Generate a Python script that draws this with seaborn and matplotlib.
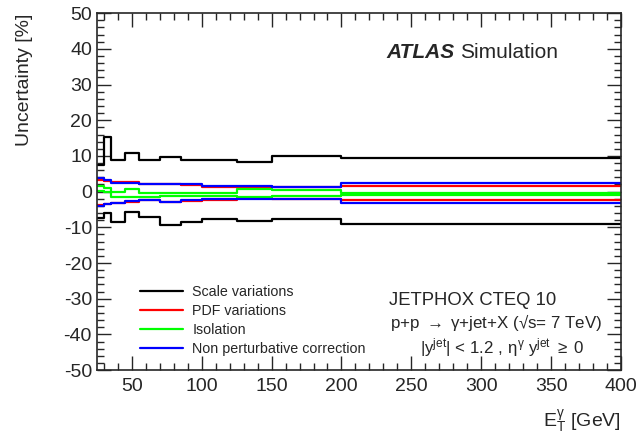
import numpy as np
import pandas as pd
import matplotlib
import matplotlib.pyplot as plt
import seaborn as sns

matplotlib.use("Agg")

# bin edges in E_T^gamma [GeV]
edges = [25, 30, 35, 45, 55, 70, 85, 100, 125, 150, 200, 400]

# relative uncertainties [%] per bin, upper / lower envelope
scale_up = [7.5, 15.2, 8.9, 10.8, 8.9, 9.7, 8.8, 8.9, 8.3, 9.9, 9.4]
scale_dn = [-7.5, -6.1, -8.6, -5.8, -7.0, -9.4, -8.4, -7.8, -8.3, -7.8, -9.0]
pdf_up = [3.3, 2.9, 2.7, 2.7, 2.2, 2.1, 1.8, 1.4, 1.3, 1.3, 1.6]
pdf_dn = [-3.8, -3.5, -3.3, -2.9, -2.4, -2.8, -2.6, -2.4, -1.7, -2.1, -2.3]
iso_up = [1.6, 1.0, -0.2, 0.8, -0.4, -0.4, -0.4, -0.4, 0.7, 0.4, -0.3]
iso_dn = [0.3, -0.1, -1.4, -1.4, -1.5, -1.2, -1.2, -1.2, -1.5, -1.2, -1.0]
np_up = [3.7, 3.2, 2.4, 2.4, 2.1, 2.1, 2.0, 1.5, 1.5, 1.3, 2.4]
np_dn = [-4.1, -3.5, -3.1, -2.7, -2.4, -2.9, -2.4, -2.1, -2.1, -2.1, -3.1]

labels = ["Scale variations", "PDF variations", "Isolation",
          "Non perturbative correction"]
colors = ["#000000", "#ff0000", "#00ff00", "#0000ff"]
series = [(scale_up, scale_dn), (pdf_up, pdf_dn), (iso_up, iso_dn),
          (np_up, np_dn)]

sns.set_style("ticks")
plt.rcParams["font.family"] = ["Liberation Sans", "DejaVu Sans"]
plt.rcParams["axes.unicode_minus"] = False
plt.rcParams["mathtext.fontset"] = "custom"
plt.rcParams["mathtext.rm"] = "Liberation Sans"
plt.rcParams["mathtext.it"] = "Liberation Sans"
plt.rcParams["mathtext.bf"] = "Liberation Sans:bold"

fig = plt.figure(figsize=(6.41, 4.38), dpi=100)
ax = fig.add_axes([0.151, 0.155, 0.818, 0.815])

for (up, dn), lab, col in zip(series, labels, colors):
    df = pd.DataFrame({"et": edges, "up": up + [up[-1]], "dn": dn + [dn[-1]]})
    sns.lineplot(data=df, x="et", y="up", drawstyle="steps-post", color=col,
                 lw=1.6, ax=ax, label=lab)
    sns.lineplot(data=df, x="et", y="dn", drawstyle="steps-post", color=col,
                 lw=1.6, ax=ax)

ax.set_xlim(25, 400)
ax.set_ylim(-50, 50)
ax.set_xticks(np.arange(50, 401, 50))
ax.set_xticks(np.arange(30, 401, 10), minor=True)
ax.set_yticks(np.arange(-50, 51, 10))
ax.set_yticks(np.arange(-50, 51, 2), minor=True)
ax.tick_params(which="both", direction="in", top=True, right=True,
               labelsize=14, width=1)
ax.tick_params(which="major", length=10)
ax.tick_params(which="minor", length=5)
ax.tick_params(axis="x", pad=6)
for s in ax.spines.values():
    s.set_linewidth(1.2)

ax.set_xlabel(r"$\mathrm{E}_{\mathrm{T}}^{\gamma}$ [GeV]", fontsize=14,
              loc="right", labelpad=9)
ax.set_ylabel("Uncertainty [%]", fontsize=14, loc="top", labelpad=22)

leg = ax.legend(loc="upper left", bbox_to_anchor=(140 / 641, 1 - 285 / 438),
                bbox_transform=fig.transFigure, frameon=False, fontsize=10.3,
                handlelength=3.0, handletextpad=0.65, labelspacing=0.36,
                borderpad=0, borderaxespad=0)
for h in leg.get_lines():
    h.set_linewidth(1.6)

ax.text(0.552, 0.891, "ATLAS", transform=ax.transAxes, fontsize=15,
        fontweight="bold", fontstyle="italic", va="center")
ax.text(0.693, 0.891, "Simulation", transform=ax.transAxes, fontsize=15,
        va="center")

ax.text(0.716, 0.196, "JETPHOX CTEQ 10", transform=ax.transAxes,
        fontsize=13.3, ha="center", va="center")
ax.text(0.762, 0.134, "p+p $\\rightarrow$ \u03b3+jet+X (\u221as= 7 TeV)",
        transform=ax.transAxes, fontsize=12.2, ha="center", va="center")
ax.text(0.773, 0.062,
        r"$|\mathrm{y}^{\mathrm{jet}}|$ < 1.2 , $\eta^{\gamma}\ \mathrm{y}^{\mathrm{jet}}$ $\geq$ 0",
        transform=ax.transAxes, fontsize=12.2, ha="center", va="center")

fig.savefig("out.png", dpi=100)
